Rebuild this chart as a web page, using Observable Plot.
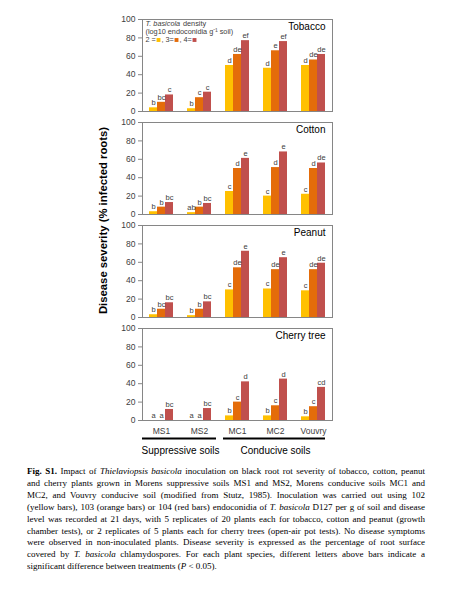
<!DOCTYPE html>
<html><head><meta charset="utf-8">
<script src="https://cdn.jsdelivr.net/npm/d3@7"></script>
<script src="https://cdn.jsdelivr.net/npm/@observablehq/plot@0.6"></script>
<style>
body{margin:0;background:#fff;width:450px;}
#chart svg{display:block}
#caption{font-family:"Liberation Serif","Times New Roman",serif;font-size:9px;line-height:11.9px;margin:6px 25px 0 27px;color:#000}
#caption div{text-align:justify;text-align-last:justify;white-space:nowrap;overflow:visible}
#caption div.last{text-align-last:left}
</style></head><body>
<div id="chart"></div>
<div id="caption">
<div><b>Fig. S1.</b> Impact of <i>Thielaviopsis basicola</i> inoculation on black root rot severity of tobacco, cotton, peanut</div>
<div>and cherry plants grown in Morens suppressive soils MS1 and MS2, Morens conducive soils MC1 and</div>
<div>MC2, and Vouvry conducive soil (modified from Stutz, 1985). Inoculation was carried out using 102</div>
<div>(yellow bars), 103 (orange bars) or 104 (red bars) endoconidia of <i>T. basicola</i> D127 per g of soil and disease</div>
<div>level was recorded at 21 days, with 5 replicates of 20 plants each for tobacco, cotton and peanut (growth</div>
<div>chamber tests), or 2 replicates of 5 plants each for cherry trees (open-air pot tests). No disease symptoms</div>
<div>were observed in non-inoculated plants. Disease severity is expressed as the percentage of root surface</div>
<div>covered by <i>T. basicola</i> chlamydospores. For each plant species, different letters above bars indicate a</div>
<div class="last">significant difference between treatments (<i>P</i> &lt; 0.05).</div>
</div>
<script>
const plants = ["Tobacco", "Cotton", "Peanut", "Cherry tree"];
const soils = ["MS1", "MS2", "MC1", "MC2", "Vouvry"];
const densities = [2, 3, 4];
const colors = ["#FFC000", "#E46C0A", "#C0504D"];
const yTicks = [0, 20, 40, 60, 80, 100];
const yLabel = "Disease severity (% infected roots)";

// values per soil: [10^2, 10^3, 10^4]
const tobacco = [[4, 10, 18], [3, 15, 21], [50, 62, 77], [47, 66, 76], [50, 56, 62]];
const tobaccoLetters = [["b", "bc", "c"], ["b", "c", "c"], ["d", "de", "ef"], ["d", "e", "ef"], ["d", "de", "de"]];
const cotton = [[3, 8, 13], [2, 8, 12], [25, 50, 61], [20, 51, 68], [22, 50, 56]];
const cottonLetters = [["b", "b", "bc"], ["ab", "b", "bc"], ["c", "d", "e"], ["c", "d", "e"], ["c", "d", "de"]];
const peanut = [[3, 9, 16], [2, 9, 17], [30, 54, 72], [31, 52, 65], [29, 52, 59]];
const peanutLetters = [["b", "bc", "bc"], ["b", "b", "bc"], ["c", "de", "e"], ["c", "de", "e"], ["c", "de", "de"]];
const cherry = [[0, 0, 12], [0, 0, 13], [5, 20, 42], [5, 16, 45], [4, 15, 36]];
const cherryLetters = [["a", "a", "bc"], ["a", "a", "bc"], ["b", "c", "d"], ["b", "c", "d"], ["b", "c", "cd"]];

const seriesValues = [tobacco, cotton, peanut, cherry];
const seriesLetters = [tobaccoLetters, cottonLetters, peanutLetters, cherryLetters];

const rows = plants.flatMap((p, pi) => soils.flatMap((s, si) => densities.map((d, di) => ({
  plant: p, soil: s, density: d, value: seriesValues[pi][si][di], letter: seriesLetters[pi][si][di]
}))));

const font = "'Liberation Sans', Arial, sans-serif";
const frameColor = "#868686";
const textColor = "#404040";
const leg = [{plant: "Tobacco", soil: "MS1"}];
const legFs = 7.3;

const legendItems = densities.flatMap((d, i) => [
  Plot.text(leg, {fx: "soil", fy: "plant", frameAnchor: "top-left", text: () => (i === 0 ? "" : ", ") + d + (i === 0 ? " =" : "="),
    dx: i === 0 ? 3 : 16 + (i - 1) * 18 + 3, dy: 17, fontSize: legFs, fill: textColor, textAnchor: "start"}),
  Plot.dot(leg, {fx: "soil", fy: "plant", frameAnchor: "top-left", symbol: "square", r: 2.2, fill: colors[i], stroke: null,
    dx: 16 + i * 18, dy: 20.5})
]);

const bracket = (list, opts) => Plot.ruleY(list.map(s => ({soil: s, plant: "Cherry tree"})),
  {fx: "soil", fy: "plant", y: () => 0, dy: 18, stroke: "#000", strokeWidth: 2, ...opts});

const chart = Plot.plot({
  width: 450, height: 460,
  marginTop: 18, marginLeft: 140, marginRight: 116, marginBottom: 40,
  style: {fontFamily: font, background: "#fff", color: textColor},
  fx: {domain: soils, padding: 0, label: null},
  fy: {domain: plants, paddingInner: 0.11, paddingOuter: 0, label: null, axis: null},
  x: {domain: densities, paddingInner: 0, paddingOuter: 0.78, axis: null},
  y: {domain: [0, 100]},
  color: {type: "ordinal", domain: densities, range: colors},
  marks: [
    Plot.barY(rows, {fx: "soil", fy: "plant", x: "density", y: "value", fill: "density", inset: 0}),
    Plot.text(rows, {fx: "soil", fy: "plant", x: "density", y: "value", text: "letter", dy: -5, fontSize: 7.5, fill: textColor}),
    Plot.frame({anchor: "top", stroke: frameColor}),
    Plot.frame({anchor: "bottom", stroke: frameColor}),
    Plot.frame({anchor: "left", stroke: frameColor, facetAnchor: "left"}),
    Plot.frame({anchor: "right", stroke: frameColor, facetAnchor: "right"}),
    Plot.axisY({ticks: yTicks, tickSize: 4, tickPadding: 3, fontSize: 8.5, label: null, stroke: frameColor, fill: textColor}),
    Plot.axisFx({anchor: "bottom", tickSize: 0, tickPadding: 7, fontSize: 8.5, label: null, fill: textColor}),
    Plot.text(plants.map(p => ({plant: p, soil: "Vouvry"})), {fx: "soil", fy: "plant", text: "plant", frameAnchor: "top-right", dx: -7, dy: 3, fontSize: 10, fill: "#000"}),
    Plot.text([{plant: "Cotton", soil: "MS1", t: yLabel}], {fx: "soil", fy: "plant", text: "t", frameAnchor: "bottom-left", rotate: -90, textAnchor: "middle", lineAnchor: "middle", dx: -39, dy: 6, fontSize: 11.3, fontWeight: "bold", fill: "#000"}),
    // legend
    Plot.text(leg, {fx: "soil", fy: "plant", frameAnchor: "top-left", text: () => "T. basicola", fontStyle: "italic", dx: 3, dy: 1, fontSize: legFs, fill: textColor}),
    Plot.text(leg, {fx: "soil", fy: "plant", frameAnchor: "top-left", text: () => "density", dx: 3 + 37.5, dy: 1, fontSize: legFs, fill: textColor}),
    Plot.text(leg, {fx: "soil", fy: "plant", frameAnchor: "top-left", text: () => "(log10 endoconidia g\u207B\u00B9 soil)", dx: 3, dy: 9, fontSize: legFs, fill: textColor}),
    ...legendItems,
    // soil type brackets
    bracket(["MS1", "MC2"], {}),
    bracket(["MS2"], {insetRight: 2}),
    bracket(["MC1"], {insetLeft: 5}),
    bracket(["Vouvry"], {insetRight: 7}),
    Plot.text([{soil: "MS1", plant: "Cherry tree", t: "Suppressive soils"}], {fx: "soil", fy: "plant", y: () => 0, text: "t", frameAnchor: "right", textAnchor: "middle", lineAnchor: "middle", dy: 30, fontSize: 10, fill: "#000"}),
    Plot.text([{soil: "MC2", plant: "Cherry tree", t: "Conducive soils"}], {fx: "soil", fy: "plant", y: () => 0, text: "t", textAnchor: "middle", lineAnchor: "middle", dy: 30, fontSize: 10, fill: "#000"})
  ]
});
document.getElementById("chart").appendChild(chart);
</script>
</body></html>
